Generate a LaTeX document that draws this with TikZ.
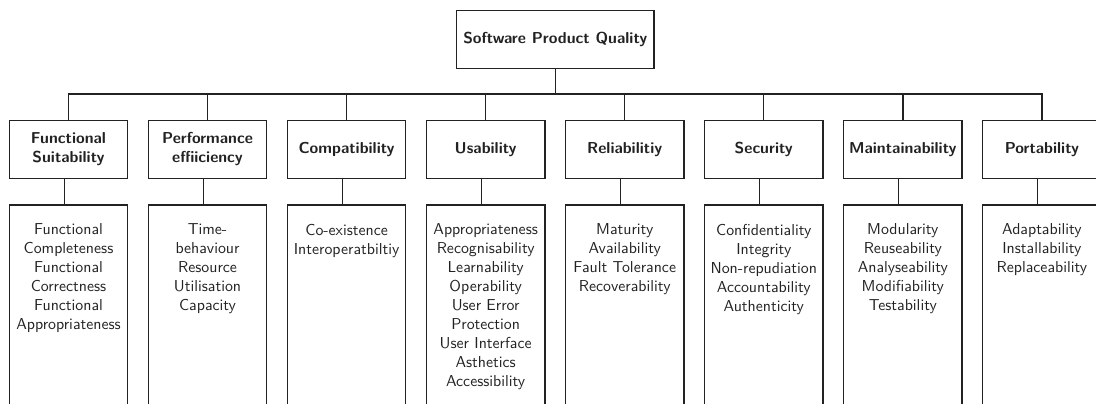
\documentclass[tikz,border=0pt]{standalone}
\usepackage{xcolor}
\definecolor{ink}{HTML}{222222}
\begin{document}
\begin{tikzpicture}[x=0.632pt,y=-0.632pt,font=\sffamily,line width=0.85pt]
\tikzset{
  box/.style={draw=ink,inner sep=0pt,text=ink},
  topbox/.style={box,minimum width=124.7pt,minimum height=36.5pt,font=\sffamily\bfseries},
  catbox/.style={box,minimum width=74.8pt,minimum height=36.4pt,align=center,font=\sffamily\bfseries},
  subbox/.style={box,minimum width=74.8pt,minimum height=145pt,anchor=north},
  subtext/.style={inner sep=0pt,align=center,anchor=north,text=ink},
  conn/.style={draw=ink}
}
\useasboundingbox (0,0) rectangle (1096,403);
\begin{scope}
\clip (0,0) rectangle (1096,403);
\node[topbox] (q) at (555.3,39.4) {Software Product Quality};
\coordinate (bar) at (0,94);
\foreach \i/\h/\t in {
 1/{Functional\\Suitability}/{Functional\\Completeness\\Functional\\Correctness\\Functional\\Appropriateness},
 2/{Performance\\effiiciency}/{Time-\\behaviour\\Resource\\Utilisation\\Capacity},
 3/{Compatibility}/{Co-existence\\Interoperatbiltiy},
 4/{Usability}/{Appropriateness\\Recognisability\\Learnability\\Operability\\User Error\\Protection\\User Interface\\Asthetics\\Accessibility},
 5/{Reliabilitiy}/{Maturity\\Availability\\Fault Tolerance\\Recoverability},
 6/{Security}/{Confidentiality\\Integrity\\Non-repudiation\\Accountability\\Authenticity},
 7/{Maintainability}/{Modularity\\Reuseability\\Analyseability\\Modifiability\\Testability},
 8/{Portability}/{Adaptability\\Installability\\Replaceability}}{
  \pgfmathsetmacro\cx{68.5+139.06*(\i-1)}
  \node[catbox] (c\i) at (\cx,149.5) {\h};
  \node[subbox] (l\i) at (\cx,204.3) {};
  \node[subtext] (t\i) at ([yshift=-12pt]l\i.north) {\t};
  \draw[conn] (q.south) -- (q.south |- bar) -| (c\i.north);
  \draw[conn] ([xshift=-2.6pt]c\i.south) -- ([xshift=-2.6pt]c\i.south |- l\i.north);
}
\end{scope}
\end{tikzpicture}
\end{document}
